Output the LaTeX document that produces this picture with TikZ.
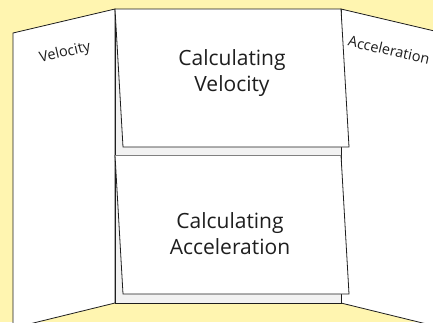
\documentclass[tikz,border=0pt]{standalone}
\usepackage{fontspec}
\setmainfont{Open Sans}
\usepackage{xcolor}
\usetikzlibrary{positioning}
\definecolor{boardyellow}{HTML}{FFF5B0}
\definecolor{panelgray}{HTML}{F2F2F2}
\definecolor{inkgray}{HTML}{1E1E1E}

\begin{document}
\begin{tikzpicture}[x=1pt, y=-1pt,
    panel/.style={fill=white, draw=inkgray, line width=0.8pt},
    flap/.style={draw=inkgray, line width=0.8pt},
    bigtext/.style={font=\fontsize{21}{26}\selectfont, text=inkgray, align=center},
    sidetext/.style={font=\fontsize{14.5}{17}\selectfont, text=inkgray, inner sep=0.5pt}]
% Background
\fill[boardyellow] (0,0) rectangle (433,322);
\useasboundingbox (0,0) rectangle (433,322);
\clip (0,0) rectangle (433,322);
% Side panels
\draw[panel] (13,33) -- (115,9) -- (115,303) -- (13,328) -- cycle;
\draw[panel] (341,9) -- (443,33) -- (443,328) -- (341,303) -- cycle;
% Middle panel
\draw[panel, fill=panelgray] (115,9) rectangle (341,303);
% Flaps
\fill[white] (115,9) -- (341,9) -- (349,147) -- (123,147) -- cycle;
\draw[flap] (115,9) -- (341,9) -- (349,147) -- (123,147) -- cycle;
\fill[white] (115,155) -- (341,155) -- (349,294) -- (123,294) -- cycle;
\draw[flap] (115,155) -- (123,294) -- (349,294) -- (341,155);
\draw[flap, gray] (115,155) -- (341,155);
% Labels
\node[bigtext] (calcvel) at (232,73) {Calculating\\Velocity};
\node[bigtext] (calcacc) at (230,234) {Calculating\\Acceleration};
\node[sidetext, rotate=13] (vel) at (65,53) {Velocity};
\node[sidetext, rotate=-13] (acc) at (389,50) {Acceleration};
\end{tikzpicture}
\end{document}
